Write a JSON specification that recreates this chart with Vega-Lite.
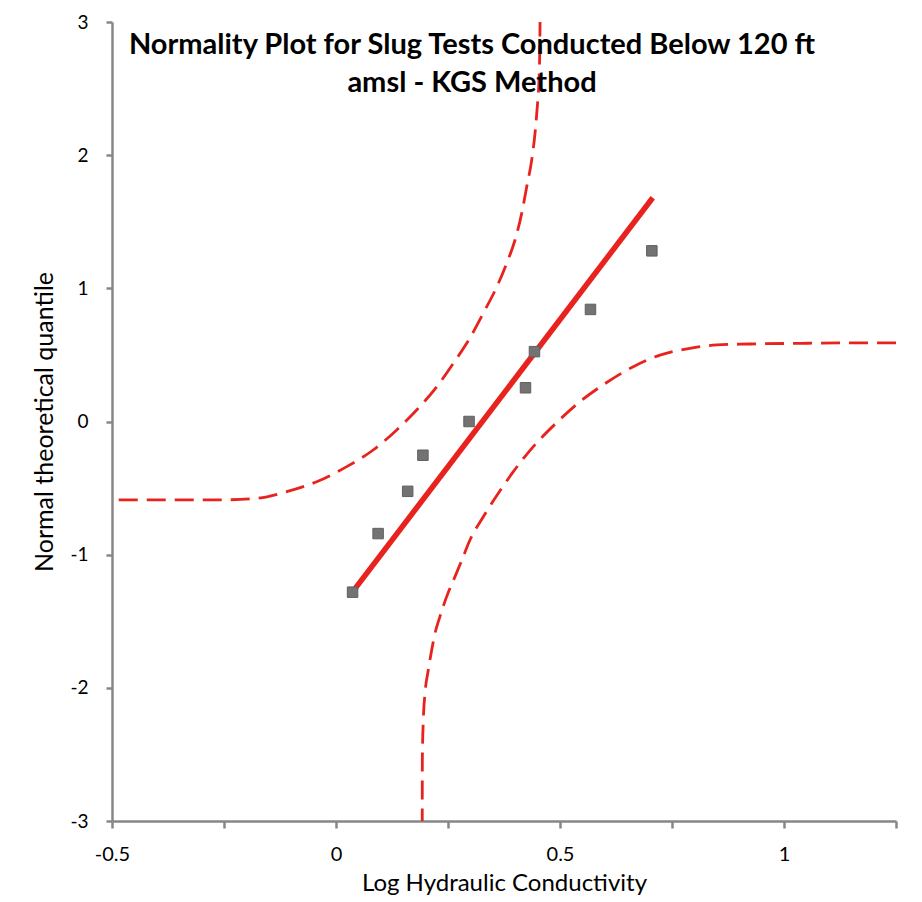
{
  "$schema": "https://vega.github.io/schema/vega-lite/v6.json",
  "width": 784,
  "height": 799,
  "autosize": {"type": "none"},
  "padding": {"left": 112, "top": 22, "right": 26, "bottom": 81},
  "background": "white",
  "config": {"view": {"stroke": null}, "font": "Lato"},
  "title": {
    "text": ["Normality Plot for Slug Tests Conducted Below 120 ft", "amsl - KGS Method"],
    "font": "Lato",
    "fontSize": 29,
    "fontWeight": "bold",
    "color": "#000000",
    "anchor": "middle",
    "frame": "group",
    "baseline": "top",
    "offset": 0,
    "dy": 85,
    "dx": -32,
    "lineHeight": 38
  },
  "datasets": {
    "points": [
      {"x": 0.037, "y": -1.2816},
      {"x": 0.094, "y": -0.8416},
      {"x": 0.160, "y": -0.5244},
      {"x": 0.194, "y": -0.2533},
      {"x": 0.297, "y": 0.0},
      {"x": 0.423, "y": 0.2533},
      {"x": 0.443, "y": 0.5244},
      {"x": 0.568, "y": 0.8416},
      {"x": 0.705, "y": 1.2816}
    ],
    "fit": [
      {"x": 0.037, "y": -1.28},
      {"x": 0.707, "y": 1.68}
    ],
    "upper": [
      {"x": -0.485, "y": -0.589},
      {"x": -0.37, "y": -0.589},
      {"x": -0.243, "y": -0.588},
      {"x": -0.177, "y": -0.577},
      {"x": -0.110, "y": -0.527},
      {"x": -0.043, "y": -0.452},
      {"x": 0.024, "y": -0.339},
      {"x": 0.083, "y": -0.214},
      {"x": 0.1355, "y": -0.064},
      {"x": 0.180, "y": 0.086},
      {"x": 0.225, "y": 0.261},
      {"x": 0.262, "y": 0.437},
      {"x": 0.299, "y": 0.627},
      {"x": 0.329, "y": 0.815},
      {"x": 0.359, "y": 1.012},
      {"x": 0.381, "y": 1.188},
      {"x": 0.3996, "y": 1.363},
      {"x": 0.4145, "y": 1.563},
      {"x": 0.4257, "y": 1.763},
      {"x": 0.4368, "y": 1.963},
      {"x": 0.4442, "y": 2.164},
      {"x": 0.4493, "y": 2.364},
      {"x": 0.4531, "y": 2.564},
      {"x": 0.4547, "y": 2.765},
      {"x": 0.4556, "y": 3.05}
    ],
    "lower": [
      {"x": 0.1925, "y": -3.05},
      {"x": 0.1927, "y": -2.542},
      {"x": 0.1949, "y": -2.241},
      {"x": 0.1987, "y": -2.041},
      {"x": 0.206, "y": -1.866},
      {"x": 0.2136, "y": -1.716},
      {"x": 0.221, "y": -1.590},
      {"x": 0.232, "y": -1.465},
      {"x": 0.247, "y": -1.315},
      {"x": 0.2656, "y": -1.165},
      {"x": 0.281, "y": -1.040},
      {"x": 0.299, "y": -0.890},
      {"x": 0.3288, "y": -0.715},
      {"x": 0.3623, "y": -0.539},
      {"x": 0.3958, "y": -0.377},
      {"x": 0.4404, "y": -0.189},
      {"x": 0.4926, "y": -0.008},
      {"x": 0.5446, "y": 0.149},
      {"x": 0.6042, "y": 0.293},
      {"x": 0.6636, "y": 0.412},
      {"x": 0.7232, "y": 0.499},
      {"x": 0.790, "y": 0.550},
      {"x": 0.8498, "y": 0.575},
      {"x": 0.9241, "y": 0.582},
      {"x": 1.036, "y": 0.587},
      {"x": 1.1473, "y": 0.590},
      {"x": 1.25, "y": 0.590}
    ]
  },
  "encoding": {
    "x": {
      "field": "x",
      "type": "quantitative",
      "scale": {"domain": [-0.5, 1.25], "nice": false, "zero": false},
      "axis": {
        "values": [-0.5, -0.25, 0, 0.25, 0.5, 0.75, 1, 1.25],
        "labelExpr": "(datum.value * 2) % 1 == 0 ? '' + datum.value : ''",
        "grid": false,
        "domainColor": "#878787",
        "domainWidth": 2.5,
        "tickColor": "#878787",
        "tickWidth": 2.5,
        "tickSize": 7,
        "labelFont": "Lato",
        "labelFontSize": 20,
        "labelColor": "#000000",
        "labelPadding": 16,
        "labelFlush": false,
        "labelOverlap": false,
        "labelBound": false,
        "title": "Log Hydraulic Conductivity",
        "titleFont": "Lato",
        "titleFontSize": 24,
        "titleFontWeight": "normal",
        "titleColor": "#000000",
        "titlePadding": 7
      }
    },
    "y": {
      "field": "y",
      "type": "quantitative",
      "scale": {"domain": [-3, 3], "nice": false, "zero": false},
      "axis": {
        "values": [-3, -2, -1, 0, 1, 2, 3],
        "labelExpr": "'' + datum.value",
        "grid": false,
        "domainColor": "#878787",
        "domainWidth": 2.5,
        "tickColor": "#878787",
        "tickWidth": 2.5,
        "tickSize": 6,
        "labelFont": "Lato",
        "labelFontSize": 19,
        "labelColor": "#000000",
        "labelPadding": 18,
        "labelFlush": false,
        "labelOverlap": false,
        "labelBound": false,
        "title": "Normal theoretical quantile",
        "titleFont": "Lato",
        "titleFontSize": 25,
        "titleFontWeight": "normal",
        "titleColor": "#000000",
        "titlePadding": 12
      }
    }
  },
  "layer": [
    {
      "data": {"name": "upper"},
      "mark": {"type": "line", "color": "#e8221d", "strokeWidth": 2.8, "strokeDash": [19, 9], "clip": true, "interpolate": "monotone"}
    },
    {
      "data": {"name": "lower"},
      "mark": {"type": "line", "color": "#e8221d", "strokeWidth": 2.8, "strokeDash": [19, 9], "clip": true, "interpolate": "monotone"}
    },
    {
      "data": {"name": "fit"},
      "mark": {"type": "line", "color": "#e8221d", "strokeWidth": 5.5}
    },
    {
      "data": {"name": "points"},
      "mark": {"type": "point", "shape": "square", "filled": true, "size": 110, "color": "#737373", "stroke": "#606060", "strokeWidth": 1, "opacity": 1}
    }
  ]
}
